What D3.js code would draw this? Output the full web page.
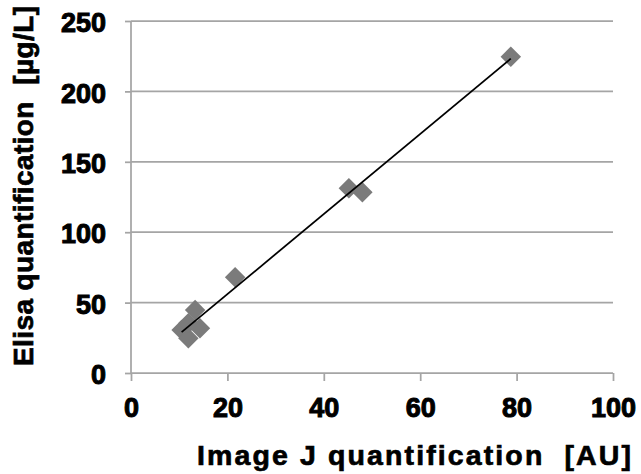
<!DOCTYPE html>
<html>
<head>
<meta charset="utf-8">
<script src="https://cdn.jsdelivr.net/npm/d3@7"></script>
<style>
  html, body { margin: 0; padding: 0; background: #fff; }
  text { font-family: "Liberation Sans", Arial, sans-serif; font-weight: bold; fill: #000; }
</style>
</head>
<body>
<svg id="chart" width="641" height="474"></svg>
<script>
const imageJ = [10.5, 11.9, 11.9, 13.3, 14.3, 21.6, 45.2, 48.0, 78.8];
const elisa  = [30.5, 24.6, 35.3, 44.7, 31.7, 68.0, 131.2, 128.3, 224.6];
const xTicks = [0, 20, 40, 60, 80, 100];
const yTicks = [0, 50, 100, 150, 200, 250];
const xTitle = "Image J quantification  [AU]";
const yTitle = "Elisa quantification  [\u00b5g/L]";

const svg = d3.select("#chart");
const x = d3.scaleLinear().domain([0, 100]).range([131, 613]);
const y = d3.scaleLinear().domain([0, 250]).range([373, 21]);
const grid = "#a5a5a5";
const fs = 27;

function styleText(sel, size, sw) {
  sel.attr("font-weight", "bold")
     .style("font-family", '"Liberation Sans", Arial, sans-serif')
     .style("font-weight", "700")
     .style("font-size", size + "px")
     .style("fill", "#000")
     .style("stroke", "#000")
     .style("stroke-width", sw + "px");
}

// gridlines
svg.append("g").selectAll("line").data(yTicks.filter(d => d > 0)).join("line")
  .attr("x1", x(0)).attr("x2", x(100))
  .attr("y1", d => y(d)).attr("y2", d => y(d))
  .attr("stroke", grid).attr("stroke-width", 1.75);

// y axis
const yAxis = svg.append("g").attr("transform", `translate(${x(0)},0)`)
  .call(d3.axisLeft(y).tickValues(yTicks).tickSize(6).tickFormat(d3.format("d")));
yAxis.select(".domain").remove();
yAxis.append("line").attr("x1", 0).attr("x2", 0).attr("y1", y(250)).attr("y2", y(0))
  .attr("stroke", grid).attr("stroke-width", 1.75);
yAxis.selectAll(".tick line").attr("stroke", grid).attr("stroke-width", 1.75);
yAxis.selectAll(".tick text").attr("x", -25).attr("dy", null).attr("y", fs * 0.36 + 1)
  .call(styleText, fs, 1.0);

// x axis
const xAxis = svg.append("g").attr("transform", `translate(0,${y(0)})`)
  .call(d3.axisBottom(x).tickValues(xTicks).tickSize(8).tickFormat(d3.format("d")));
xAxis.select(".domain").remove();
xAxis.append("line").attr("x1", x(0)).attr("x2", x(100)).attr("y1", 0).attr("y2", 0)
  .attr("stroke", grid).attr("stroke-width", 1.75);
xAxis.selectAll(".tick line").attr("stroke", grid).attr("stroke-width", 1.75);
xAxis.selectAll(".tick text").attr("dy", null).attr("y", 44)
  .call(styleText, fs, 1.0);

// markers
const pts = imageJ.map((v, i) => ({ x: v, y: elisa[i] }));
const sym = d3.symbol().type(d3.symbolSquare).size(210);
svg.append("g").selectAll("path").data(pts).join("path")
  .attr("d", sym)
  .attr("transform", d => `translate(${x(d.x)},${y(d.y)}) rotate(45)`)
  .attr("fill", "#7b7b7b");

// linear trendline (least squares)
const mx = d3.mean(imageJ), my = d3.mean(elisa);
const sxy = d3.sum(imageJ, (v, i) => (v - mx) * (elisa[i] - my));
const sxx = d3.sum(imageJ, v => (v - mx) * (v - mx));
const slope = sxy / sxx, icpt = my - slope * mx;
const [x0, x1] = d3.extent(imageJ);
svg.append("line")
  .attr("x1", x(x0)).attr("y1", y(slope * x0 + icpt))
  .attr("x2", x(x1)).attr("y2", y(slope * x1 + icpt))
  .attr("stroke", "#000").attr("stroke-width", 1.75);

// titles
svg.append("text").attr("x", 414).attr("y", 465).attr("text-anchor", "middle")
  .attr("textLength", 434).attr("lengthAdjust", "spacing")
  .style("white-space", "pre").call(styleText, 28.5, 0.7).text(xTitle);
svg.append("text").attr("transform", "translate(33,186) rotate(-90)").attr("text-anchor", "middle")
  .attr("textLength", 360).attr("lengthAdjust", "spacing")
  .style("white-space", "pre").call(styleText, 28, 0.7).text(yTitle);
</script>
</body>
</html>
